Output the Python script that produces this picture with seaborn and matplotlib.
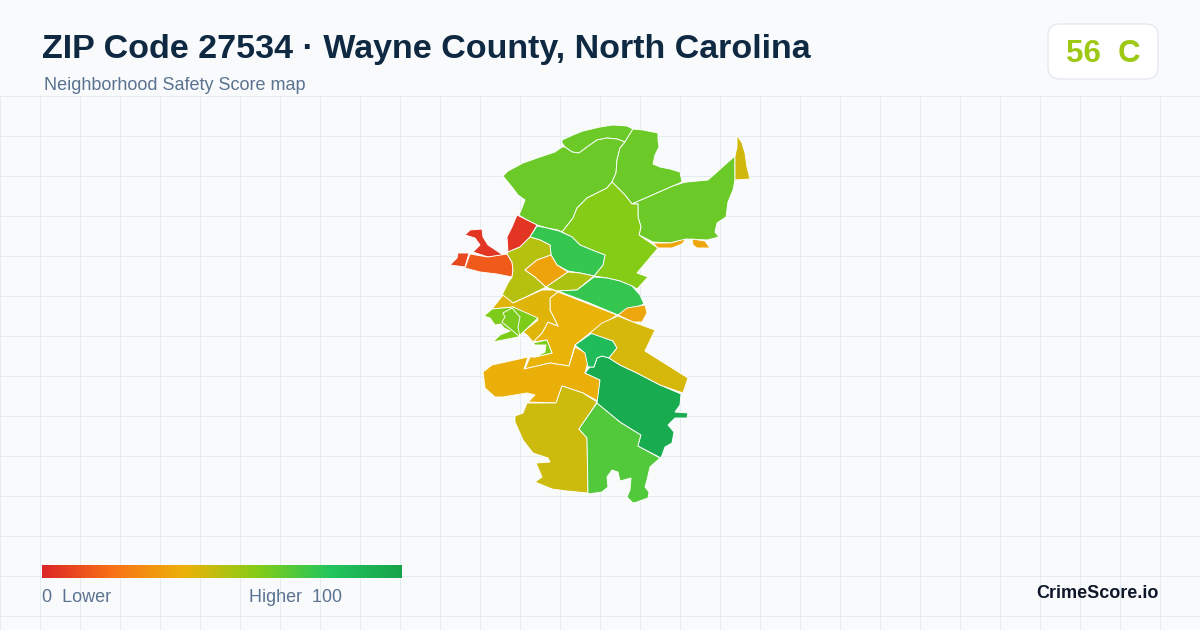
import numpy as np
import matplotlib
matplotlib.use("Agg")
import matplotlib.pyplot as plt
from matplotlib.patches import FancyBboxPatch, Polygon
import seaborn as sns

TITLE = "ZIP Code 27534 · Wayne County, North Carolina"
SUBTITLE = "Neighborhood Safety Score map"
SCORE_TEXT = "56  C"
BRAND = "CrimeScore.io"
LEGEND_LOW = "0  Lower"
LEGEND_HIGH = "Higher  100"
SCALE_STOPS = ["#dc2626", "#f97316", "#eab308", "#84cc16", "#22c55e", "#16a34a"]

north_lobe = [(562,140),(573,135),(583,131),(600,127),(613,125),(627,126),(633,129),(628,137),(625,142),(617,139),(607,138),(597,140),(587,147),(579,153),(572,152),(565,147),(562,143)]
northwest = [(503,176),(508,171),(510,170),(523,163),(540,157),(555,152),(562,147),(565,147),(572,152),(579,153),(587,147),(597,140),(607,138),(617,139),(625,142),(620,148),(617,160),(616,173),(612,182),(607,188),(597,193),(587,198),(577,208),(573,218),(562,232),(558,230),(547,228),(537,225),(527,220),(519,215),(522,208),(525,200),(518,195),(512,187)]
north_central = [(633,129),(643,130),(658,133),(658,140),(659,147),(655,155),(653,164),(660,167),(670,169),(680,172),(682,182),(673,186),(657,193),(632,204),(625,195),(618,188),(612,182),(616,173),(617,160),(620,148),(625,142),(628,137)]
northeast = [(632,204),(657,193),(673,186),(682,183),(687,182),(708,180),(717,172),(727,163),(735,156),(735,180),(733,190),(728,202),(726,217),(717,223),(715,232),(719,237),(707,240),(687,239),(670,243),(653,242),(639,235),(641,227),(638,217),(638,204)]
east_sliver = [(737,135),(742,143),(745,153),(747,167),(750,179),(735,180),(735,156),(737,147)]
central_north = [(612,182),(618,188),(625,195),(632,204),(638,204),(638,217),(641,227),(639,235),(658,248),(648,260),(637,273),(648,277),(637,289),(632,286),(620,281),(607,278),(594,276),(603,265),(605,255),(592,250),(580,245),(572,237),(562,232),(573,218),(577,208),(587,198),(597,193),(607,188)]
sliver_a = [(653,243),(670,243),(686,239),(682,244),(672,248),(658,248)]
sliver_b = [(692,239),(705,241),(710,248),(697,248),(693,245)]
red_east = [(517,215),(537,225),(530,237),(520,247),(508,252),(507,237),(512,227)]
red_hook = [(465,235),(470,230),(482,229),(483,237),(488,245),(497,251),(503,255),(488,257),(473,252),(480,245),(475,238)]
red_west = [(450,265),(457,258),(458,253),(469,253),(465,267)]
red_band = [(470,254),(488,257),(507,254),(512,262),(513,270),(512,277),(497,274),(480,272),(465,268)]
green_upper = [(537,226),(547,228),(559,231),(572,237),(580,245),(592,250),(605,255),(603,265),(594,276),(580,273),(568,271),(557,265),(551,255),(550,245),(540,240),(530,237)]
olive_west = [(530,237),(540,240),(550,245),(551,255),(537,260),(525,270),(535,277),(546,287),(530,295),(513,303),(502,295),(508,283),(512,277),(513,270),(512,262),(507,254),(508,252),(520,247)]
orange_center = [(551,255),(557,265),(568,272),(546,287),(535,277),(525,270),(537,260)]
olive_small = [(568,272),(580,273),(594,276),(577,290),(557,291),(546,287)]
green_middle = [(594,277),(607,278),(620,281),(632,286),(640,295),(644,304),(618,315),(587,302),(558,291),(577,290)]
orange_east = [(618,315),(627,308),(645,305),(647,313),(642,322),(633,322)]
amber_center = [(558,292),(617,315),(602,325),(590,333),(575,345),(572,355),(569,366),(550,363),(525,369),(530,357),(535,357),(552,353),(547,340),(533,342),(542,333),(548,322),(558,326),(550,310),(550,298)]
amber_west = [(503,295),(513,303),(542,290),(553,290),(558,292),(550,298),(550,310),(558,326),(548,322),(542,333),(533,342),(527,335),(523,332),(538,320),(513,307),(492,309)]
lime_west = [(484,316),(492,309),(513,307),(538,318),(518,337),(493,342),(500,335),(510,331),(504,328),(501,324),(495,325),(490,318)]
lime_inner = [(512,308),(520,317),(518,327),(520,337),(508,327),(502,322),(505,317),(503,313)]
lime_strip = [(533,343),(547,340),(552,353),(535,357),(545,352),(546,345),(535,345)]
amber_south = [(483,372),(492,365),(528,357),(524,369),(550,363),(569,366),(575,347),(586,353),(588,362),(585,373),(600,380),(598,401),(583,393),(562,386),(556,403),(528,402),(535,395),(527,393),(503,397),(495,397),(485,388)]
olive_south = [(562,386),(583,393),(597,402),(590,413),(579,429),(587,438),(588,493),(567,491),(552,489),(535,482),(542,477),(536,463),(550,462),(548,458),(533,453),(523,440),(515,422),(515,416),(523,413),(527,403),(556,403)]
green_south = [(597,403),(620,422),(641,435),(638,446),(660,458),(650,467),(647,480),(645,487),(649,492),(648,498),(637,502),(633,503),(627,497),(630,490),(631,478),(620,481),(618,472),(612,470),(607,477),(608,487),(602,492),(588,494),(587,438),(579,429),(590,413)]
dark_southeast = [(602,356),(609,358),(620,365),(637,373),(660,385),(681,394),(680,405),(675,412),(688,413),(687,418),(675,418),(668,425),(674,432),(672,443),(665,447),(661,458),(638,446),(641,435),(620,422),(597,403),(600,380),(585,373),(590,367),(594,367),(597,358)]
green_mid = [(575,345),(592,333),(613,341),(617,348),(609,358),(602,356),(597,358),(594,367),(588,367),(585,353)]
yellow_east = [(590,333),(602,323),(618,316),(633,322),(655,330),(645,351),(688,378),(683,393),(660,385),(637,373),(620,365),(609,358),(617,348),(613,341)]

regions = [north_lobe, northwest, north_central, northeast, east_sliver, central_north, sliver_a, sliver_b,
           red_east, red_hook, red_west, red_band, green_upper, olive_west, orange_center, olive_small,
           green_middle, orange_east, amber_center, amber_west, lime_west, lime_inner, lime_strip,
           amber_south, olive_south, green_south, dark_southeast, green_mid, yellow_east]
scores = [65, 65, 65, 65, 45, 60, 36, 36,
          4, 4, 9, 14, 76, 50, 35, 52,
          76, 36, 40, 42, 61, 62, 61,
          39, 46, 70, 95, 85, 44]

sns.set_theme(style="white")
plt.rcParams["font.family"] = ["Liberation Sans", "DejaVu Sans"]
BG = "#f8fafc"
cmap = sns.blend_palette(SCALE_STOPS, n_colors=256, as_cmap=True)

fig = plt.figure(figsize=(12, 6.3), dpi=100, facecolor=BG)
ax = fig.add_axes([0, 0, 1, 1])
ax.set_xlim(0, 1200)
ax.set_ylim(630, 0)
ax.axis("off")

ax.vlines(np.arange(0, 1200, 40), 96, 630, color="#e3edf1", lw=0.72, zorder=1)
ax.hlines(np.arange(96, 630, 40), 0, 1200, color="#e3edf1", lw=0.72, zorder=1)

for verts, score in zip(regions, scores):
    ax.add_patch(Polygon(verts, closed=True, facecolor=cmap(score / 100), edgecolor="white",
                         lw=0.65, joinstyle="round", zorder=3))

ax.text(42, 49.5, TITLE, fontsize=24.48, fontweight="bold", color="#0f2942", va="center", ha="left")
ax.text(44, 86, SUBTITLE, fontsize=12.96, color="#5b7290", va="center", ha="left")

ax.add_patch(FancyBboxPatch((1058, 34), 90, 35, boxstyle="round,pad=10,rounding_size=12",
                            facecolor="white", edgecolor="#e2e8f0", lw=0.9, zorder=4))
ax.text(1103, 53.5, SCORE_TEXT, fontsize=22.5, fontweight="bold", color="#9dc814", va="center", ha="center", zorder=5)

ax.text(42, 598, LEGEND_LOW, fontsize=12.96, color="#5b7290", va="center", ha="left")
ax.text(249, 598, LEGEND_HIGH, fontsize=12.85, color="#5b7290", va="center", ha="left")
ax.text(1158.5, 593.5, BRAND, fontsize=13, fontweight="bold", color="#0f172a", va="center", ha="right")

cax = fig.add_axes([42 / 1200, 1 - 578 / 630, 360 / 1200, 13 / 630])
sns.heatmap(np.linspace(0, 100, 361)[None, :], cmap=cmap, vmin=0, vmax=100, cbar=False,
            xticklabels=False, yticklabels=False, ax=cax, rasterized=True)

fig.savefig("out.png", dpi=100, facecolor=BG)
